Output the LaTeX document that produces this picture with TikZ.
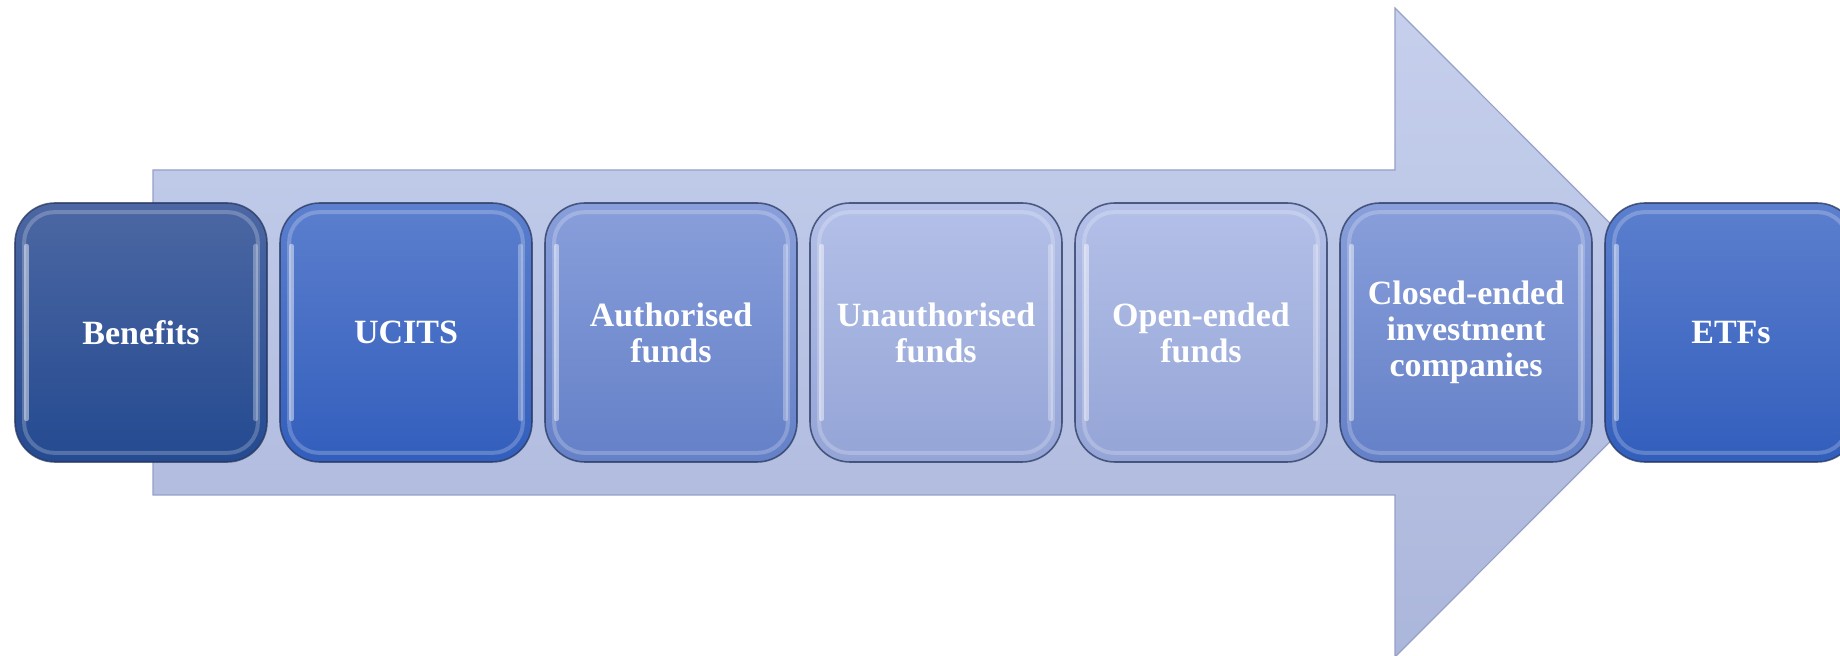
\documentclass[tikz,border=0pt]{standalone}
\usepackage{fontspec}
\setmainfont{Liberation Serif}
\definecolor{arrTop}{RGB}{198,208,237}
\definecolor{arrBot}{RGB}{171,182,219}
\definecolor{arrEdge}{RGB}{150,160,200}
\definecolor{c1top}{RGB}{76,103,163}
\definecolor{c1bot}{RGB}{36,74,144}
\definecolor{c2top}{RGB}{92,127,206}
\definecolor{c2bot}{RGB}{50,94,188}
\definecolor{c3top}{RGB}{137,159,219}
\definecolor{c3bot}{RGB}{100,128,199}
\definecolor{c4top}{RGB}{180,192,232}
\definecolor{c4bot}{RGB}{148,164,214}
\definecolor{boxEdge}{RGB}{40,55,95}
\tikzset{
  arrowshape/.style={top color=arrTop, bottom color=arrBot, draw=arrEdge, line width=0.6pt},
  fundbox/.style={rounded corners=20pt, minimum width=126pt, minimum height=129.5pt,
    draw=boxEdge, draw opacity=0.75, line width=0.8pt, text=white, align=center,
    inner sep=2pt, font=\fontsize{17}{18}\selectfont\bfseries},
  rim/.style={draw=white, draw opacity=0.22, line width=2pt, rounded corners=15pt},
  shine/.style={draw=white, draw opacity=0.45, line width=2.4pt, line cap=round}
}
\begin{document}
\begin{tikzpicture}[x=0.5pt, y=-0.5pt]
\useasboundingbox (0,0) rectangle (1840,656);
% big arrow
\path[arrowshape] (153,170) -- (1395,170) -- (1395,8) -- (1719,332.5)
  -- (1395,657) -- (1395,495) -- (153,495) -- cycle;
% boxes
\node[fundbox, top color=c1top, bottom color=c1bot] (b1) at (141,332.5) {Benefits};
\node[fundbox, top color=c2top, bottom color=c2bot] (b2) at (406,332.5) {UCITS};
\node[fundbox, top color=c3top, bottom color=c3bot] (b3) at (671,332.5) {Authorised\\funds};
\node[fundbox, top color=c4top, bottom color=c4bot] (b4) at (936,332.5) {Unauthorised\\funds};
\node[fundbox, top color=c4top, bottom color=c4bot] (b5) at (1201,332.5) {Open-ended\\funds};
\node[fundbox, top color=c3top, bottom color=c3bot] (b6) at (1466,332.5) {Closed-ended\\investment\\companies};
\node[fundbox, top color=c2top, bottom color=c2bot] (b7) at (1731,332.5) {ETFs};
% bevel highlights
\foreach \n in {b1,b2,b3,b4,b5,b6,b7}{
  \draw[rim] ([shift={(5pt,-5pt)}]\n.north west) rectangle ([shift={(-5pt,5pt)}]\n.south east);
  \draw[shine] ([shift={(6pt,-22pt)}]\n.north west) -- ([shift={(6pt,22pt)}]\n.south west);
  \draw[shine, draw opacity=0.3] ([shift={(-6pt,-22pt)}]\n.north east) -- ([shift={(-6pt,22pt)}]\n.south east);
}
\end{tikzpicture}
\end{document}
